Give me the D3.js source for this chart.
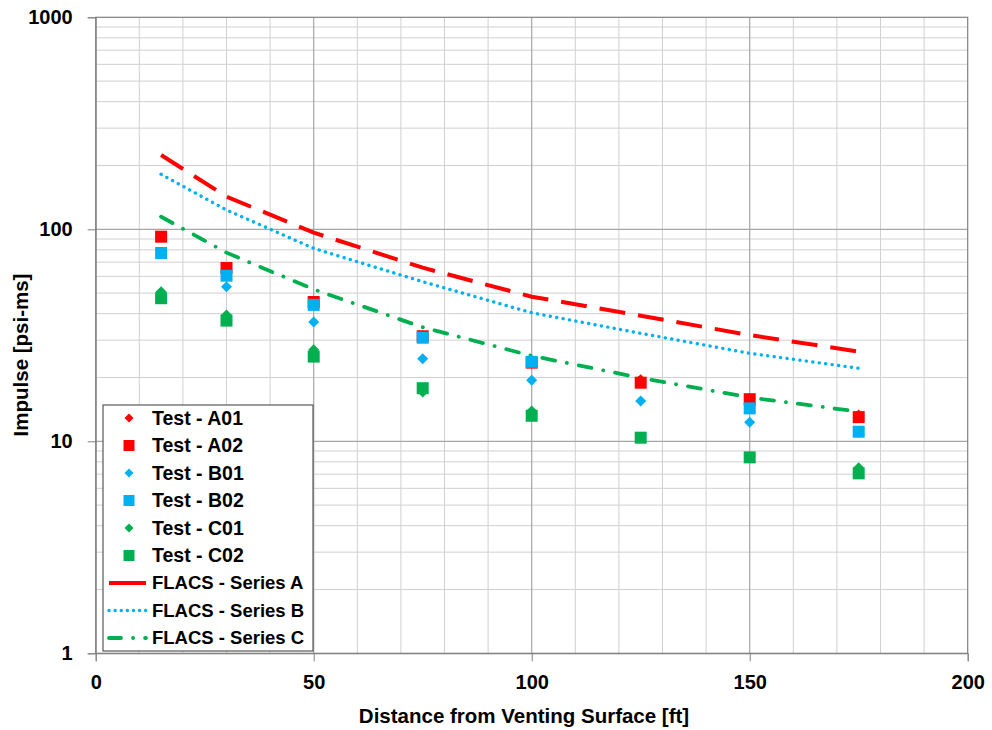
<!DOCTYPE html>
<html><head><meta charset="utf-8">
<script src="https://cdn.jsdelivr.net/npm/d3@7"></script>
<style>body{margin:0;background:#fff;} text{font-family:"Liberation Sans",Arial,sans-serif;font-weight:bold;fill:#000;}</style>
</head><body>
<svg id="chart" width="992" height="730"></svg>
<script>
const xTicks = [0, 50, 100, 150, 200];
const yTicks = [1, 10, 100, 1000];
const distances = [15, 30, 50, 75, 100, 125, 150, 175];
const testA01 = [92, 66, 45.5, 31.5, 23.5, 19.5, 15.8, 13.3];
const testA02 = [92.3, 65.7, 45.4, 31.3, 23.5, 18.9, 15.8, 13.0];
const testB01 = [77, 53.6, 36.5, 24.5, 19.4, 15.5, 12.3, 11.0];
const testB02 = [77.3, 60.4, 44.0, 30.8, 23.7, null, 14.3, 11.1];
const testC01 = [50.8, 39.4, 27.0, 17.1, 13.9, 10.4, 8.4, 7.5];
const testC02 = [47.3, 37.1, 25.1, 17.8, 13.2, 10.4, 8.4, 7.06];
const flacsA = [224, 142.6, 96.4, 65.9, 48.1, 39.1, 31.7, 26.5];
const flacsB = [181.7, 123.3, 81.3, 56.6, 40.4, 32.3, 26.0, 22.1];
const flacsC = [114.6, 77.6, 52.1, 34.5, 25.3, 19.9, 16.1, 13.8];

const RED = "#FF0000", BLUE = "#00B0F0", GREEN = "#00B050";
const svg = d3.select("#chart");
const L = 95.7, T = 17.3, W = 872, H = 636;
const x = d3.scaleLinear().domain([0, 200]).range([L, L + W]);
const y = d3.scaleLog().domain([1, 1000]).range([T + H, T]);

const g = svg.append("g");
// minor grid
const minorX = d3.range(10, 200, 10).filter(v => v % 50 !== 0);
g.selectAll(".mx").data(minorX).join("line")
  .attr("x1", d => x(d)).attr("x2", d => x(d)).attr("y1", T).attr("y2", T + H)
  .attr("stroke", "#d0d0d0").attr("stroke-width", 1);
const minorY = [];
[1, 10, 100].forEach(b => { for (let k = 2; k <= 9; k++) minorY.push(b * k); });
g.selectAll(".my").data(minorY).join("line")
  .attr("x1", L).attr("x2", L + W).attr("y1", d => y(d)).attr("y2", d => y(d))
  .attr("stroke", "#d0d0d0").attr("stroke-width", 1);
// major grid
g.selectAll(".Mx").data([50, 100, 150]).join("line")
  .attr("x1", d => x(d)).attr("x2", d => x(d)).attr("y1", T).attr("y2", T + H)
  .attr("stroke", "#a6a6a6").attr("stroke-width", 1.2);
g.selectAll(".My").data([10, 100]).join("line")
  .attr("x1", L).attr("x2", L + W).attr("y1", d => y(d)).attr("y2", d => y(d))
  .attr("stroke", "#a6a6a6").attr("stroke-width", 1.2);
// border
g.append("rect").attr("x", L).attr("y", T).attr("width", W).attr("height", H)
  .attr("fill", "none").attr("stroke", "#808080").attr("stroke-width", 1.2);

// axes
const xAxis = d3.axisBottom(x).tickValues(xTicks).tickSize(8).tickPadding(10);
const xg = svg.append("g").attr("transform", `translate(0,${T + H})`).call(xAxis);
const yAxis = d3.axisLeft(y).tickValues(yTicks).tickFormat(d3.format("d")).tickSize(8).tickPadding(15);
const yg = svg.append("g").attr("transform", `translate(${L},0)`).call(yAxis);
[xg, yg].forEach(a => {
  a.select(".domain").attr("stroke", "#808080");
  a.selectAll(".tick line").attr("stroke", "#808080");
  a.selectAll(".tick text").style("font-size", "20px").style("font-family", "Liberation Sans, Arial, sans-serif").style("font-weight", "bold").attr("fill", "#000");
});
xg.selectAll(".tick text").attr("dy", "0.9em");

svg.append("text").attr("x", 524).attr("y", 723).attr("text-anchor", "middle")
  .style("font-size", "20.5px").text("Distance from Venting Surface [ft]");
svg.append("text").attr("transform", "translate(28,355) rotate(-90)").attr("text-anchor", "middle")
  .style("font-size", "20.5px").text("Impulse [psi-ms]");

// lines
const lineGen = d3.line().x(d => x(d[0])).y(d => y(d[1]));
const lines = [
  {data: flacsA, color: RED, dash: "26 13", w: 4, cap: "butt"},
  {data: flacsB, color: BLUE, dash: "0.1 6.4", w: 3.4, cap: "round"},
  {data: flacsC, color: GREEN, dash: "13 12 0.1 12", w: 3.8, cap: "round"}
];
lines.forEach(l => {
  svg.append("path").datum(distances.map((d, i) => [d, l.data[i]]))
    .attr("d", lineGen).attr("fill", "none").attr("stroke", l.color)
    .attr("stroke-width", l.w).attr("stroke-dasharray", l.dash).attr("stroke-linecap", l.cap);
});

// markers
const diamond = s => `M0,${-s}L${s},0L0,${s}L${-s},0Z`;
const square = s => `M${-s},${-s}H${s}V${s}H${-s}Z`;
const series = [
  {data: testA01, color: RED, shape: "d"},
  {data: testA02, color: RED, shape: "s"},
  {data: testB01, color: BLUE, shape: "d"},
  {data: testB02, color: BLUE, shape: "s"},
  {data: testC01, color: GREEN, shape: "d"},
  {data: testC02, color: GREEN, shape: "s"}
];
series.forEach(s => {
  const pts = distances.map((d, i) => [d, s.data[i]]).filter(p => p[1] != null);
  svg.append("g").selectAll("path").data(pts).join("path")
    .attr("transform", p => `translate(${x(p[0])},${y(p[1])})`)
    .attr("d", s.shape === "d" ? diamond(5.5) : square(6))
    .attr("fill", s.color);
});

// legend
const legendItems = [
  {label: "Test - A01", color: RED, type: "d"},
  {label: "Test - A02", color: RED, type: "s"},
  {label: "Test - B01", color: BLUE, type: "d"},
  {label: "Test - B02", color: BLUE, type: "s"},
  {label: "Test - C01", color: GREEN, type: "d"},
  {label: "Test - C02", color: GREEN, type: "s"},
  {label: "FLACS - Series A", color: RED, type: "l", li: 0},
  {label: "FLACS - Series B", color: BLUE, type: "l", li: 1},
  {label: "FLACS - Series C", color: GREEN, type: "l", li: 2}
];
const lg = svg.append("g");
lg.append("rect").attr("x", 103).attr("y", 405).attr("width", 210).attr("height", 246)
  .attr("fill", "#fff").attr("stroke", "#595959").attr("stroke-width", 1.2);
legendItems.forEach((it, i) => {
  const cy = 418 + i * 27.5;
  if (it.type === "d") lg.append("path").attr("transform", `translate(129,${cy})`).attr("d", diamond(4.5)).attr("fill", it.color);
  else if (it.type === "s") lg.append("path").attr("transform", `translate(129,${cy})`).attr("d", square(5.5)).attr("fill", it.color);
  else {
    const l = lines[it.li];
    lg.append("line").attr("x1", 109).attr("x2", 146).attr("y1", cy).attr("y2", cy)
      .attr("stroke", l.color).attr("stroke-width", l.w)
      .attr("stroke-dasharray", it.li === 0 ? null : (it.li === 1 ? "0.1 6" : "12 12 0.1 12"))
      .attr("stroke-linecap", l.cap);
  }
  lg.append("text").attr("x", 152).attr("y", cy).attr("dy", "0.35em")
    .style("font-size", it.type === "l" ? "18.5px" : "19.5px").text(it.label);
});
</script>
</body></html>
